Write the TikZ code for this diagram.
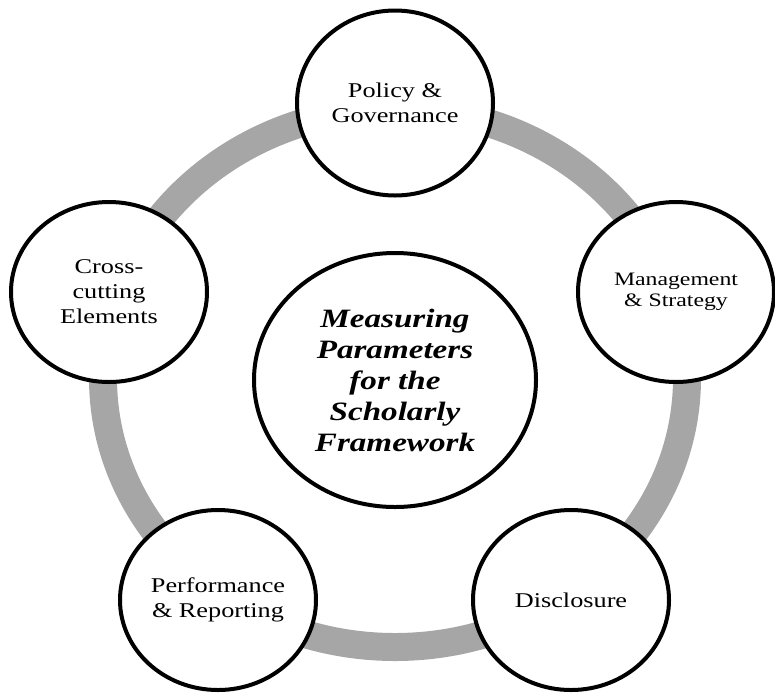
\documentclass[tikz,border=0pt]{standalone}
\usepackage{fontspec}
\setmainfont{Liberation Serif}
\newfontfamily\wideserif[FakeStretch=1.25]{Liberation Serif}
\usetikzlibrary{shapes.geometric}
\definecolor{ringgray}{HTML}{A6A6A6}
\tikzset{
  outernode/.style={ellipse, draw=black, line width=4pt, fill=white,
    minimum width=196pt, minimum height=180pt, inner sep=0pt, align=center,
    font=\wideserif\fontsize{21}{25}\selectfont},
  hubnode/.style={ellipse, draw=black, line width=4pt, fill=white,
    minimum width=282pt, minimum height=254pt, inner sep=0pt, align=center,
    font=\wideserif\bfseries\itshape\fontsize{26.5}{31}\selectfont},
  ringline/.style={draw=ringgray, line width=28pt}
}
\begin{document}
\begin{tikzpicture}[x=1pt,y=-1pt]
\useasboundingbox (0,0) rectangle (775,694);
\draw[ringline] (395,378) ellipse [x radius=292pt, y radius=269pt];
\node[hubnode] (hub) at (395,380) {Measuring\\Parameters\\for the\\Scholarly\\Framework};
\node[outernode, minimum height=185pt] (policy) at (395,103) {Policy \&\\Governance};
\node[outernode, font=\wideserif\fontsize{19}{20.5}\selectfont] (mgmt) at (676,292) {Management\\\& Strategy};
\node[outernode] (disc) at (571,600) {Disclosure};
\node[outernode] (perf) at (218,600) {Performance\\\& Reporting};
\node[outernode] (cross) at (109,292) {Cross-\\cutting\\Elements};
\end{tikzpicture}
\end{document}
